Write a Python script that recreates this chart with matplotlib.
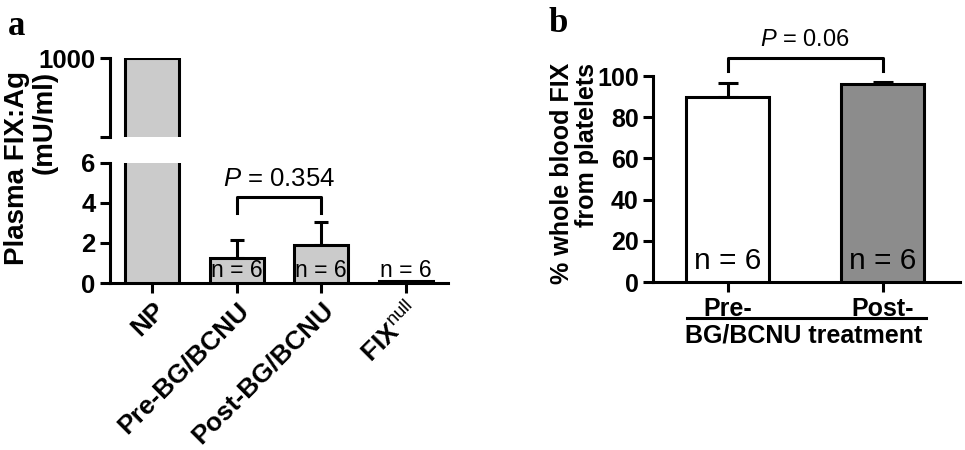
import matplotlib
matplotlib.use("Agg")
import matplotlib.pyplot as plt
from matplotlib.transforms import blended_transform_factory

plt.rcParams['font.family'] = ['Liberation Sans', 'DejaVu Sans']
plt.rcParams['mathtext.fontset'] = 'custom'
plt.rcParams['mathtext.rm'] = 'Liberation Sans'
plt.rcParams['mathtext.it'] = 'Liberation Sans:italic'
plt.rcParams['mathtext.bf'] = 'Liberation Sans:bold'

# ---- data panel a ----
a_categories = ["NP", "Pre-BG/BCNU", "Post-BG/BCNU", "FIX$^{\\mathrm{null}}$"]
a_values = [1000, 1.25, 1.9, 0.1]
a_err_upper = [0, 0.9, 1.15, 0]
a_n_labels = ["", "n = 6", "n = 6", "n = 6"]
a_p_text = "$\\it{P}$ = 0.354"
a_lower_ticks = [0, 2, 4, 6]
a_upper_ticks = [1000]

# ---- data panel b ----
b_categories = ["Pre-", "Post-"]
b_values = [90, 96]
b_err_upper = [6.5, 1.3]
b_n_labels = ["n = 6", "n = 6"]
b_p_text = "$\\it{P}$ = 0.06"
b_ticks = [0, 20, 40, 60, 80, 100]
b_group_label = "BG/BCNU treatment"

LW = 2.2
fig = plt.figure(figsize=(9.65, 4.5), dpi=100)

# panel a axes
axL = fig.add_axes([0.114, 0.371, 0.35, 0.267])
axU = fig.add_axes([0.114, 0.696, 0.35, 0.175])

xa = list(range(len(a_categories)))
bw = 0.64
for ax in (axL, axU):
    ax.bar(xa, a_values, width=bw, color="#cbcbcb", edgecolor="black", linewidth=LW, zorder=3)
    ax.set_xlim(-0.5, 3.5)
    for s in ("top", "right"):
        ax.spines[s].set_visible(False)
    for s in ("left", "bottom"):
        ax.spines[s].set_linewidth(LW)
    ax.tick_params(width=LW, length=7, labelsize=18)

# error bars (upper only)
for i, (v, e) in enumerate(zip(a_values, a_err_upper)):
    if e > 0:
        axL.errorbar(i, v, yerr=[[0], [e]], fmt="none", ecolor="black", elinewidth=LW,
                     capsize=5, capthick=LW, zorder=2)

axL.set_ylim(0, 6)
axL.set_yticks(a_lower_ticks)
axL.set_yticklabels([str(t) for t in a_lower_ticks], fontweight="bold", fontsize=18.5)
axL.set_xticks(xa)
axL.set_xticklabels(a_categories, rotation=45, ha="right", rotation_mode="anchor",
                    fontweight="bold", fontsize=19)

axU.set_ylim(900, 1000)
axU.set_yticks([900, 1000])
axU.set_yticklabels(["", "1000"], fontweight="bold", fontsize=18.5)
axU.spines["bottom"].set_visible(False)
axU.set_xticks([])

# n labels
for i, t in enumerate(a_n_labels):
    if not t:
        continue
    y = 0.65 if a_values[i] > 0.5 else a_values[i] + 0.55
    axL.text(i, y, t, ha="center", va="center", fontsize=16.5, zorder=5)

# bracket a
x1, x2 = 1, 2
yb, yl = 4.3, 3.5
axL.plot([x1, x1, x2, x2], [yl, yb, yb, yl], color="black", lw=LW, clip_on=False, zorder=4)
axL.text(1.5, yb + 0.3, a_p_text, ha="center", va="bottom", fontsize=18.5)

fig.text(0.060, 0.627, "Plasma FIX:Ag\n(mU/ml)", rotation=90, ha="right", va="center",
         fontsize=20, fontweight="bold", linespacing=1.1)
fig.text(0.008, 0.942, "a", fontsize=25, fontweight="bold", family="Liberation Serif",
         ha="left", va="center")

# panel b
axB = fig.add_axes([0.677, 0.373, 0.318, 0.458])
xb = list(range(len(b_categories)))
axB.bar(xb, b_values, width=0.535, color=["white", "#8c8c8c"], edgecolor="black",
        linewidth=LW, zorder=3)
for i, (v, e) in enumerate(zip(b_values, b_err_upper)):
    axB.errorbar(i, v, yerr=[[0], [e]], fmt="none", ecolor="black", elinewidth=LW,
                 capsize=7, capthick=LW, zorder=2)
axB.set_xlim(-0.48, 1.5)
axB.set_ylim(0, 100)
axB.set_yticks(b_ticks)
axB.set_yticklabels([str(t) for t in b_ticks], fontweight="bold", fontsize=18)
axB.set_xticks(xb)
axB.set_xticklabels(b_categories, fontweight="bold", fontsize=18)
for s in ("top", "right"):
    axB.spines[s].set_visible(False)
for s in ("left", "bottom"):
    axB.spines[s].set_linewidth(LW)
axB.tick_params(width=LW, length=7, labelsize=18)
axB.tick_params(axis="x", pad=4)

for i, t in enumerate(b_n_labels):
    axB.text(i, 10.5, t, ha="center", va="center", fontsize=21.5, zorder=5)

yb, yl = 109, 102.5
axB.plot([0, 0, 1, 1], [yl, yb, yb, yl], color="black", lw=LW, clip_on=False, zorder=4)
axB.text(0.5, yb + 3, b_p_text, ha="center", va="bottom", fontsize=17)

tr = blended_transform_factory(axB.transData, axB.transAxes)
axB.plot([-0.26, 1.28], [-0.175, -0.175], color="black", lw=LW, transform=tr, clip_on=False)
axB.text(0.49, -0.20, b_group_label, transform=tr, ha="center", va="top",
         fontsize=18, fontweight="bold")

fig.text(0.621, 0.615, "% whole blood FIX\nfrom platelets", rotation=90, ha="right",
         va="center", fontsize=18, fontweight="bold", linespacing=1.05)
fig.text(0.568, 0.948, "b", fontsize=25, fontweight="bold", family="Liberation Serif",
         ha="left", va="center")

fig.savefig("out.png", dpi=100)
